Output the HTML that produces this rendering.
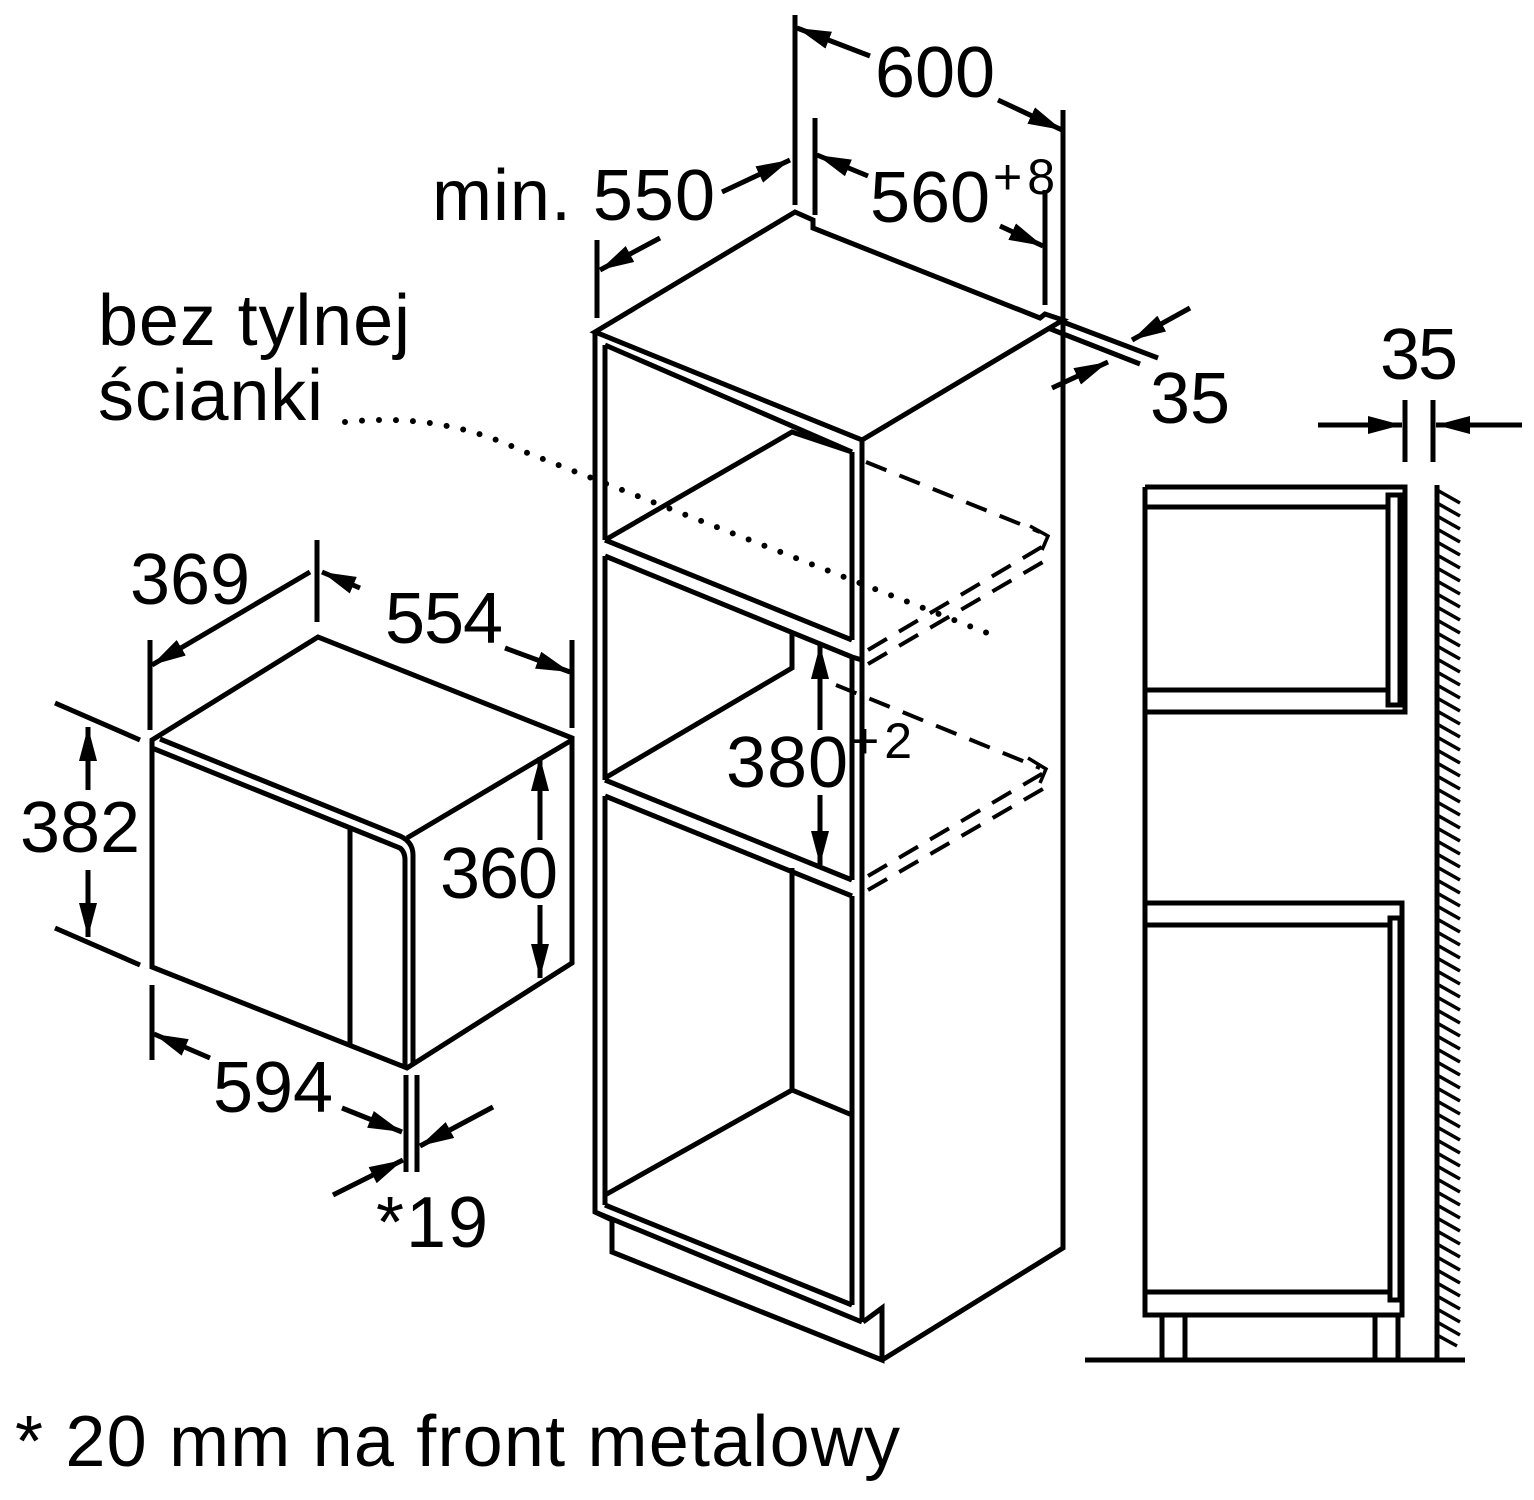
<!DOCTYPE html>
<html><head><meta charset="utf-8"><style>
html,body{margin:0;padding:0;background:#fff}
svg{display:block}
text{font-family:"Liberation Sans",sans-serif;fill:#000}
</style></head><body>
<svg width="1534" height="1500" viewBox="0 0 1534 1500" xmlns="http://www.w3.org/2000/svg">
<defs>
<marker id="a" viewBox="0 0 34 18" refX="34" refY="9" markerWidth="34" markerHeight="18" markerUnits="userSpaceOnUse" orient="auto-start-reverse"><path d="M0,0 L34,9 L0,18 z" fill="#000"/></marker>
</defs>
<g stroke="#000" stroke-width="5" fill="none" stroke-linejoin="miter">
<!-- microwave -->
<path d="M152,740 L318,637 L572,738 L572,963 L407,1068 L152,967 Z"/>
<path d="M407,838 L572,740"/>
<path d="M160,739 L400,836 Q413,842 413,855 L413,1064"/>
<path d="M152,748 L400,848 Q405,852 405,860 L405,1066"/>
<path d="M350,827 L350,1046"/>
<!-- microwave dims -->
<path d="M150,640 V730 M317,540 V622 M572,640 V728"/>
<path d="M310,572 L152,665" marker-end="url(#a)"/>
<path d="M360,588 L322,572" marker-end="url(#a)"/>
<path d="M505,648 L570,672" marker-end="url(#a)"/>
<path d="M55,703 L140,740 M55,928 L140,965"/>
<path d="M88,790 L88,727" marker-end="url(#a)"/>
<path d="M88,870 L88,937" marker-end="url(#a)"/>
<path d="M540,840 L540,757" marker-end="url(#a)"/>
<path d="M540,905 L540,978" marker-end="url(#a)"/>
<path d="M152,985 V1060 M406,1075 V1172 M417,1075 V1172"/>
<path d="M210,1058 L154,1034" marker-end="url(#a)"/>
<path d="M342,1108 L402,1132" marker-end="url(#a)"/>
<path d="M493,1107 L420,1146" marker-end="url(#a)"/>
<path d="M333,1195 L403,1160" marker-end="url(#a)"/>
<!-- cabinet outer -->
<path d="M595,332 L795,212 L813,220 L813,228 L1040,318 L1045,314 L1063,320 L862,440 L595,332 Z"/>
<path d="M595,332 V1212 L612,1220 V1252 L882,1360 V1308 L863,1322"/>
<path d="M1063,320 V1248 L882,1360"/>
<path d="M862,440 V1322 M852,452 V640 M852,657 V880 M852,896 V1305"/>
<path d="M605,345 L852,452 M605,345 V540 M605,556 V780 M605,796 V1205"/>
<path d="M595,1212 L862,1322"/>
<path d="M605,540 L852,640 M605,540 L792,432 L852,452"/>
<path d="M605,556 L852,657 L862,660"/>
<path d="M792,632 V668 L605,778"/>
<path d="M605,780 L852,880 M605,796 L852,896"/>
<path d="M792,868 V1090 L605,1195 M792,1090 L852,1115"/>
<path d="M605,1205 L852,1305"/>
</g>
<!-- dashed -->
<g stroke="#000" stroke-width="4" fill="none" stroke-dasharray="22,14">
<path d="M866,462 L1040,532"/>
<path d="M868,650 L1045,545"/>
<path d="M868,664 L1048,559"/>
<path d="M836,685 L1040,768"/>
<path d="M868,876 L1045,772"/>
<path d="M868,890 L1048,786"/>
</g>
<g stroke="#000" stroke-width="3.5" fill="none">
<path d="M1030,526 L1048,536 L1042,550 M1028,758 L1046,769 L1040,783"/>
</g>
<!-- dotted -->
<path d="M345,422 Q440,412 520,450 L1000,638" stroke="#000" stroke-width="6" fill="none" stroke-dasharray="0,17" stroke-linecap="round"/>
<!-- top dims -->
<g stroke="#000" stroke-width="5" fill="none">
<path d="M795,15 V205 M1063,110 V322 M1063,390 V400 M815,118 V215 M1045,190 V305 M597,240 V318"/>
<path d="M870,56 L797,28" marker-end="url(#a)"/>
<path d="M998,100 L1062,130" marker-end="url(#a)"/>
<path d="M868,176 L817,155" marker-end="url(#a)"/>
<path d="M1000,226 L1043,246" marker-end="url(#a)"/>
<path d="M722,192 L790,160" marker-end="url(#a)"/>
<path d="M660,238 L600,270" marker-end="url(#a)"/>
<path d="M1063,322 L1158,358 M1048,328 L1140,364"/>
<path d="M1190,308 L1132,340" marker-end="url(#a)"/>
<path d="M1052,388 L1108,362" marker-end="url(#a)"/>
<path d="M1405,400 V462 M1433,400 V462"/>
<path d="M1318,425 L1402,425" marker-end="url(#a)"/>
<path d="M1522,425 L1436,425" marker-end="url(#a)"/>
<path d="M820,730 L820,645" marker-end="url(#a)"/>
<path d="M820,795 L820,865" marker-end="url(#a)"/>
</g>
<!-- side view -->
<g stroke="#000" stroke-width="5" fill="none">
<path d="M1145,487 H1405 V712 H1145 M1145,507 H1388 M1145,690 H1388"/>
<path d="M1388,495 H1400 V705 H1388 Z"/>
<path d="M1145,487 V1315 H1402 V903 H1145 M1145,925 H1390 M1145,1292 H1390"/>
<path d="M1390,918 H1400 V1300 H1390 Z"/>
<path d="M1162,1315 V1360 M1185,1315 V1360 M1375,1315 V1360 M1398,1315 V1360"/>
<path d="M1085,1360 H1465"/>
<path d="M1437,485 V1360"/>
</g>
<path stroke="#000" stroke-width="3.5" fill="none" d="M1437,490 l23,13 M1437,503 l23,13 M1437,516 l23,13 M1437,529 l23,13 M1437,542 l23,13 M1437,555 l23,13 M1437,568 l23,13 M1437,581 l23,13 M1437,594 l23,13 M1437,607 l23,13 M1437,620 l23,13 M1437,633 l23,13 M1437,646 l23,13 M1437,659 l23,13 M1437,672 l23,13 M1437,685 l23,13 M1437,698 l23,13 M1437,711 l23,13 M1437,724 l23,13 M1437,737 l23,13 M1437,750 l23,13 M1437,763 l23,13 M1437,776 l23,13 M1437,789 l23,13 M1437,802 l23,13 M1437,815 l23,13 M1437,828 l23,13 M1437,841 l23,13 M1437,854 l23,13 M1437,867 l23,13 M1437,880 l23,13 M1437,893 l23,13 M1437,906 l23,13 M1437,919 l23,13 M1437,932 l23,13 M1437,945 l23,13 M1437,958 l23,13 M1437,971 l23,13 M1437,984 l23,13 M1437,997 l23,13 M1437,1010 l23,13 M1437,1023 l23,13 M1437,1036 l23,13 M1437,1049 l23,13 M1437,1062 l23,13 M1437,1075 l23,13 M1437,1088 l23,13 M1437,1101 l23,13 M1437,1114 l23,13 M1437,1127 l23,13 M1437,1140 l23,13 M1437,1153 l23,13 M1437,1166 l23,13 M1437,1179 l23,13 M1437,1192 l23,13 M1437,1205 l23,13 M1437,1218 l23,13 M1437,1231 l23,13 M1437,1244 l23,13 M1437,1257 l23,13 M1437,1270 l23,13 M1437,1283 l23,13 M1437,1296 l23,13 M1437,1309 l23,13 M1437,1322 l23,13 M1437,1335 l20,11"/>
<!-- text -->
<g font-size="72">
<text x="875" y="97" textLength="120">600</text>
<text x="870" y="222" textLength="120">560</text>
<text x="993" y="194" font-size="50" textLength="62">+8</text>
<text x="432" y="220" textLength="283">min. 550</text>
<text x="1150" y="423" textLength="80">35</text>
<text x="1380" y="379" textLength="78">35</text>
<text x="98" y="345" textLength="312">bez tylnej</text>
<text x="98" y="420" textLength="225">ścianki</text>
<text x="130" y="604" textLength="120">369</text>
<text x="385" y="643" textLength="118">554</text>
<text x="20" y="852" textLength="120">382</text>
<text x="440" y="898" textLength="118">360</text>
<text x="213" y="1112" textLength="120">594</text>
<text x="376" y="1247" textLength="112">*19</text>
<text x="726" y="787" textLength="122">380</text>
<text x="850" y="758" font-size="50" textLength="62">+2</text>
<text x="15" y="1466" textLength="885">* 20 mm na front metalowy</text>
</g>
</svg>
</body></html>
